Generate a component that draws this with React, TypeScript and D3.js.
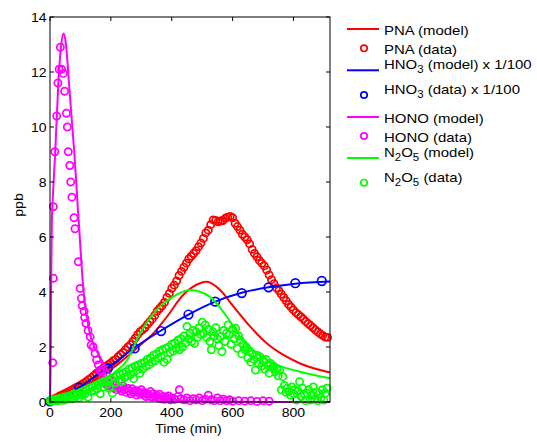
import React from "react";
import * as d3 from "d3";

type P = [number, number];

const xTicks = [0, 200, 400, 600, 800];
const yTicks = [0, 2, 4, 6, 8, 10, 12, 14];

const pnaModel: P[] = [[0,0],[50,0.2],[100,0.45],[164,0.9],[220,1.35],[274,1.85],[300,2.1],[340,2.5],[384,3.1],[438,3.9],[493,4.32],[515,4.37],[559,4.07],[603,3.47],[658,2.74],[713,2.13],[767,1.71],[822,1.4],[920,1.07]];
const pnaData: P[] = [[0,0.02],[8,0.08],[16,0.13],[24,0.17],[32,0.22],[40,0.26],[48,0.3],[56,0.35],[64,0.39],[72,0.44],[80,0.49],[88,0.54],[96,0.58],[104,0.64],[112,0.69],[120,0.75],[128,0.82],[136,0.88],[144,0.96],[152,1.04],[160,1.1],[168,1.17],[176,1.25],[184,1.3],[192,1.36],[200,1.42],[208,1.5],[216,1.55],[224,1.65],[232,1.73],[240,1.8],[248,1.9],[256,2.0],[264,2.08],[272,2.2],[280,2.32],[288,2.45],[296,2.56],[304,2.62],[312,2.7],[320,2.82],[328,2.92],[336,3.02],[344,3.15],[352,3.3],[360,3.4],[368,3.5],[376,3.62],[384,3.8],[392,3.95],[400,4.13],[408,4.25],[416,4.4],[424,4.6],[432,4.75],[440,4.9],[448,5.05],[456,5.2],[464,5.3],[472,5.4],[480,5.5],[488,5.65],[496,5.78],[504,5.95],[512,6.15],[520,6.25],[528,6.45],[536,6.62],[544,6.6],[552,6.55],[560,6.58],[568,6.6],[576,6.68],[584,6.72],[592,6.75],[600,6.7],[608,6.5],[616,6.38],[624,6.25],[632,6.1],[640,6.0],[648,5.9],[656,5.75],[664,5.55],[672,5.4],[680,5.28],[688,5.15],[696,5.05],[704,4.95],[712,4.8],[720,4.62],[728,4.45],[736,4.3],[744,4.15],[752,4.05],[760,3.92],[768,3.8],[776,3.68],[784,3.55],[792,3.45],[800,3.35],[808,3.25],[816,3.18],[824,3.1],[832,3.02],[840,2.93],[848,2.85],[856,2.78],[864,2.7],[872,2.62],[880,2.55],[888,2.48],[896,2.42],[904,2.36],[912,2.35]];

const hno3Model: P[] = [[0,0],[50,0.25],[96,0.52],[150,0.95],[190,1.24],[278,1.98],[365,2.6],[455,3.18],[543,3.65],[630,3.97],[718,4.17],[806,4.3],[920,4.38]];
const hno3Data: P[] = [[0,0.02],[96,0.53],[190,1.22],[278,1.95],[365,2.58],[455,3.18],[543,3.65],[630,3.96],[718,4.17],[806,4.32],[893,4.4]];

const honoModel: P[] = [[0,0],[2,1.4],[4,4.5],[6,6.5],[10,7.6],[17,9.05],[27,11.5],[36,12.9],[44,13.4],[50,13.2],[55,12.7],[63,11.5],[72,10.2],[80,9.05],[90,7.3],[97,6.13],[104,4.92],[113,3.71],[131,2.5],[164,1.65],[203,0.92],[250,0.5],[300,0.25],[400,0.08],[500,0.03],[600,0.01],[700,0],[920,0]];
const honoData: P[] = [[9,1.43],[11,4.5],[11,7.1],[16,9.1],[22,10.4],[26,11.6],[30,12.1],[34,12.9],[38,12.1],[44,11.95],[48,11.3],[54,10.5],[57,10.0],[60,9.1],[65,8.6],[68,8.0],[72,7.45],[79,6.7],[82,6.3],[93,5.1],[99,4.13],[103,3.77],[106,3.5],[112,3.3],[114,3.07],[118,2.86],[125,2.6],[132,2.37],[135,2.07],[142,2.0],[148,1.77],[153,1.53],[159,1.35],[164,1.16],[170,1.1],[175,0.92],[180,0.8],[185,0.72],[190,0.6],[195,0.68],[200,0.55],[205,0.62],[210,0.5],[215,0.6],[220,0.45],[225,0.55],[230,0.5],[235,0.4],[240,0.58],[245,0.45],[250,0.35],[255,0.5],[260,0.4],[265,0.3],[270,0.48],[275,0.35],[280,0.42],[285,0.25],[290,0.38],[295,0.3],[300,0.45],[305,0.28],[310,0.35],[315,0.2],[320,0.3],[325,0.22],[330,0.38],[335,0.18],[340,0.3],[345,0.2],[350,0.25],[355,0.15],[360,0.28],[365,0.12],[370,0.2],[375,0.1],[380,0.18],[385,0.12],[390,0.22],[395,0.08],[400,0.15],[410,0.1],[420,0.2],[425,0.45],[430,0.12],[440,0.08],[450,0.15],[460,0.05],[470,0.12],[480,0.08],[490,0.15],[500,0.05],[510,0.1],[520,0.25],[530,0.08],[540,0.05],[550,0.15],[560,0.05],[570,0.1],[580,0.05],[590,0.08],[600,0.03],[620,0.05],[640,0.03],[660,0.05],[680,0.02],[700,0.05],[720,0.03]];

const n2o5Model: P[] = [[0,0],[50,0.12],[100,0.3],[164,0.68],[210,1.05],[252,1.5],[296,2.5],[351,3.35],[405,3.83],[460,4.07],[493,4.01],[537,3.71],[581,3.1],[625,2.37],[680,1.77],[746,1.35],[822,1.1],[920,0.86]];
const n2o5Data: P[] = [[0,0.05],[5,0.02],[10,0.08],[15,0.05],[20,0.1],[25,0.04],[30,0.12],[35,0.08],[40,0.15],[45,0.06],[50,0.18],[55,0.1],[60,0.2],[65,0.14],[70,0.25],[75,0.12],[80,0.3],[85,0.2],[90,0.28],[95,0.15],[100,0.35],
[105,0.25],[110,0.4],[115,0.3],[120,0.45],[125,0.18],[130,0.5],[135,0.38],[140,0.55],[145,0.42],[150,0.6],[155,0.48],[160,0.65],[165,0.3],[170,0.7],[175,0.55],[180,0.75],[185,0.62],[190,0.8],[195,0.5],[200,0.85],
[205,0.32],[210,0.9],[215,0.7],[220,0.95],[225,0.8],[230,1.0],[235,0.74],[240,1.05],[245,0.9],[250,1.1],[255,0.95],[260,1.2],[265,1.0],[270,1.25],[275,0.85],[280,1.3],[285,1.15],[290,1.35],[295,1.04],[300,1.4],
[305,1.2],[310,1.45],[315,1.3],[320,1.55],[325,1.35],[330,1.6],[335,1.45],[340,1.7],[345,1.5],[350,1.75],[355,1.6],[360,1.85],[365,1.65],[370,1.9],[375,1.45],[380,1.95],[385,1.55],[390,2.0],[395,1.8],[400,2.1],
[405,1.85],[410,2.15],[415,1.95],[420,2.25],[425,1.9],[430,2.3],[435,2.0],[440,2.4],[445,2.15],[450,2.75],[455,2.3],[460,2.5],[465,2.2],[470,2.6],[475,2.13],[480,2.55],[485,2.35],[490,2.7],[495,2.45],[500,2.9],
[505,2.5],[510,2.8],[515,2.35],[520,2.65],[525,2.2],[530,1.9],[535,2.56],[540,2.4],[545,2.7],[550,2.3],[555,2.05],[560,2.37],[565,1.83],[570,2.6],[575,2.2],[580,2.5],[585,2.8],[590,2.45],[595,2.1],[600,2.65],
[605,2.3],[610,2.68],[615,1.95],[620,2.4],[625,2.25],[630,1.75],[635,2.1],[640,1.9],[645,2.0],[650,1.6],[655,1.85],[660,1.45],[665,1.75],[670,1.55],[675,1.16],[680,1.7],[685,1.4],[690,1.65],[695,1.3],[700,1.5],
[705,1.2],[710,1.55],[715,1.35],[720,1.05],[725,1.4],[730,1.25],[735,1.3],[740,1.1],[745,1.2],[750,0.95],[755,1.16],[760,0.44],[765,0.92],[770,0.6],[775,0.35],[780,0.5],[785,0.37],[790,0.25],[795,0.55],[800,0.3],
[805,0.45],[810,0.07],[815,0.4],[820,0.74],[825,0.2],[830,0.5],[835,0.3],[840,0.05],[845,0.32],[850,0.45],[855,0.07],[860,0.25],[865,0.55],[870,0.1],[875,0.37],[880,0.05],[885,0.3],[890,0.15],[895,0.45],[900,0.07],[905,0.32],[910,0.5]];

const RED = "#ff0000";
const BLUE = "#0000ff";
const MAG = "#ff00ff";
const GREEN = "#00ff00";
const FONT = "'Liberation Sans', Arial, Helvetica, sans-serif";

export default function App() {
  const W = 537, H = 442;
  const L = 50, R = 330, T = 17, B = 402;
  const x = d3.scaleLinear().domain([0, 920]).range([L, R]);
  const y = d3.scaleLinear().domain([0, 14]).range([B, T]);
  const line = d3.line<P>().x(d => x(d[0])).y(d => y(d[1])).curve(d3.curveMonotoneX);

  const series = [
    { model: pnaModel, data: pnaData, color: RED, r: 3.6 },
    { model: hno3Model, data: hno3Data, color: BLUE, r: 4.3 },
    { model: honoModel, data: honoData, color: MAG, r: 3.6 },
    { model: n2o5Model, data: n2o5Data, color: GREEN, r: 3.6 },
  ];

  const tk = 4;
  const AX = 1.08;
  const LG = 1.15;
  const legendRows = [
    { kind: "line", color: RED, ly: 29, ty: 35, label: <>PNA (model)</> },
    { kind: "dot", color: RED, ly: 48.3, ty: 54, label: <>PNA (data)</> },
    { kind: "line", color: BLUE, ly: 70.3, ty: 69, label: <>HNO<tspan fontSize={10} dy={4}>3</tspan><tspan dy={-4}> (model) x 1/100</tspan></> },
    { kind: "dot", color: BLUE, ly: 95, ty: 94, label: <>HNO<tspan fontSize={10} dy={4}>3</tspan><tspan dy={-4}> (data) x 1/100</tspan></> },
    { kind: "line", color: MAG, ly: 117, ty: 122.5, label: <>HONO (model)</> },
    { kind: "dot", color: MAG, ly: 136, ty: 141.5, label: <>HONO (data)</> },
    { kind: "line", color: GREEN, ly: 158, ty: 157, label: <>N<tspan fontSize={10} dy={4}>2</tspan><tspan dy={-4}>O</tspan><tspan fontSize={10} dy={4}>5</tspan><tspan dy={-4}> (model)</tspan></> },
    { kind: "dot", color: GREEN, ly: 182.7, ty: 182, label: <>N<tspan fontSize={10} dy={4}>2</tspan><tspan dy={-4}>O</tspan><tspan fontSize={10} dy={4}>5</tspan><tspan dy={-4}> (data)</tspan></> },
  ];

  return (
    <svg width={W} height={H} style={{ position: "absolute", left: 0, top: 0, background: "#fff" }} fontFamily={FONT}>
      <rect x={0} y={0} width={W} height={H} fill="#fff" />
      {series.map((s, i) => (
        <g key={i}>
          <path d={line(s.model) || ""} fill="none" stroke={s.color} strokeWidth={2} />
          {s.data.map((d, j) => (
            <circle key={j} cx={x(d[0])} cy={y(d[1])} r={s.r} fill="none" stroke={s.color} strokeWidth={1.7} />
          ))}
        </g>
      ))}
      <rect x={L} y={T} width={R - L} height={B - T} fill="none" stroke="#000" strokeWidth={1} />
      {xTicks.map(t => (
        <g key={"x" + t}>
          <line x1={x(t)} x2={x(t)} y1={B} y2={B - tk} stroke="#000" />
          <line x1={x(t)} x2={x(t)} y1={T} y2={T + tk} stroke="#000" />
          <text transform={`translate(${x(t)},417) scale(${AX},1)`} fontSize={13} textAnchor="middle" fill="#000">{t}</text>
        </g>
      ))}
      {yTicks.map(t => (
        <g key={"y" + t}>
          <line x1={L} x2={L + tk} y1={y(t)} y2={y(t)} stroke="#000" />
          <line x1={R} x2={R - tk} y1={y(t)} y2={y(t)} stroke="#000" />
          <text transform={`translate(46.5,${y(t) + 4.6}) scale(${AX},1)`} fontSize={13} textAnchor="end" fill="#000">{t}</text>
        </g>
      ))}
      <text transform={`translate(188.5,433) scale(${AX},1)`} fontSize={13} textAnchor="middle" fill="#000">Time (min)</text>
      <text transform="translate(23,205) rotate(-90) scale(1.08,1)" fontSize={13} textAnchor="middle" fill="#000">ppb</text>
      {legendRows.map((r, i) => (
        <g key={"l" + i}>
          {r.kind === "line" ? (
            <line x1={347} x2={379} y1={r.ly} y2={r.ly} stroke={r.color} strokeWidth={2} />
          ) : (
            <circle cx={364} cy={r.ly} r={3.2} fill="none" stroke={r.color} strokeWidth={1.7} />
          )}
          <text transform={`translate(384,${r.ty}) scale(${LG},1)`} fontSize={13} fill="#000">{r.label}</text>
        </g>
      ))}
    </svg>
  );
}
